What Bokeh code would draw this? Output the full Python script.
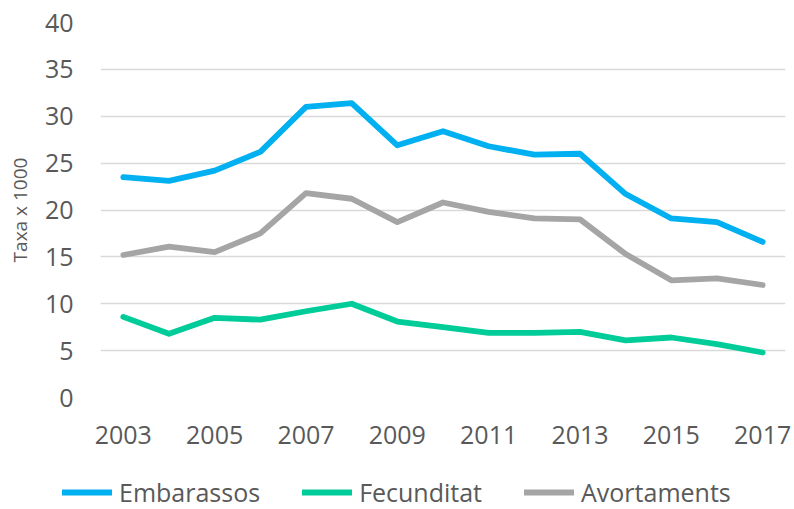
from bokeh.plotting import figure
from bokeh.models import Range1d, FixedTicker, Legend, LegendItem
from bokeh.layouts import column
from bokeh.embed import file_html
from bokeh.resources import INLINE

years = list(range(2003, 2018))
embarassos = [23.5, 23.1, 24.2, 26.2, 31.0, 31.4, 26.9, 28.4, 26.8, 25.9, 26.0, 21.7, 19.1, 18.7, 16.6]
fecunditat = [8.6, 6.8, 8.5, 8.3, 9.2, 10.0, 8.1, 7.5, 6.9, 6.9, 7.0, 6.1, 6.4, 5.7, 4.8]
avortaments = [15.2, 16.1, 15.5, 17.5, 21.8, 21.2, 18.7, 20.8, 19.8, 19.1, 19.0, 15.3, 12.5, 12.7, 12.0]
x_ticks = [2003, 2005, 2007, 2009, 2011, 2013, 2015, 2017]
y_ticks = [0, 5, 10, 15, 20, 25, 30, 35, 40]
series_names = ["Embarassos", "Fecunditat", "Avortaments"]
series_values = [embarassos, fecunditat, avortaments]
colors = ["#00B0F0", "#00CC99", "#A5A5A5"]

FONT = "Open Sans"
TXT = "#595959"

p = figure(width=794, height=462, output_backend="svg", toolbar_location=None,
           x_range=Range1d(2002.5, 2017.5), y_range=Range1d(0, 40),
           min_border_left=100, min_border_right=9, min_border_top=22, min_border_bottom=65)
p.outline_line_color = None
p.xgrid.grid_line_color = None
p.ygrid.grid_line_color = "#D9D9D9"
p.ygrid.grid_line_width = 1.5

p.xaxis.ticker = FixedTicker(ticks=x_ticks)
p.yaxis.ticker = FixedTicker(ticks=y_ticks)
for ax in (p.xaxis[0], p.yaxis[0]):
    ax.axis_line_color = None
    ax.major_tick_line_color = None
    ax.minor_tick_line_color = None
    ax.major_tick_out = 0
    ax.major_tick_in = 0
    ax.major_label_text_font = FONT
    ax.major_label_text_font_size = "25px"
    ax.major_label_text_color = TXT
p.yaxis.major_label_standoff = 27
p.xaxis.major_label_standoff = 28
p.yaxis.axis_label = "Taxa x 1000"
p.yaxis.axis_label_text_font = FONT
p.yaxis.axis_label_text_font_size = "19px"
p.yaxis.axis_label_text_font_style = "normal"
p.yaxis.axis_label_text_color = TXT
p.yaxis.axis_label_standoff = 9

for name, vals, c in zip(series_names, series_values, colors):
    p.line(years, vals, line_color=c, line_width=5.8, line_cap="round", line_join="round")

# legend strip below the chart (its lines lie outside its own range, only the legend shows)
p2 = figure(width=794, height=47, output_backend="svg", toolbar_location=None,
            x_range=Range1d(0, 1), y_range=Range1d(0, 1), min_border=0,
            x_axis_location=None, y_axis_location=None)
p2.frame_align = False
p2.grid.visible = False
p2.outline_line_color = None
items = []
for name, vals, c in zip(series_names, series_values, colors):
    r = p2.line(years, vals, line_color=c, line_width=5.8, line_cap="round")
    items.append(LegendItem(label=name, renderers=[r]))
legend = Legend(items=items, orientation="horizontal", location=(62, 0),
                glyph_width=50, label_standoff=7, spacing=42, padding=0, margin=0,
                border_line_color=None, background_fill_alpha=0,
                label_text_font=FONT, label_text_font_size="25px", label_text_color=TXT)
p2.add_layout(legend, "center")

layout = column(p, p2, spacing=0)
open("out.html", "w").write(file_html(layout, INLINE))
